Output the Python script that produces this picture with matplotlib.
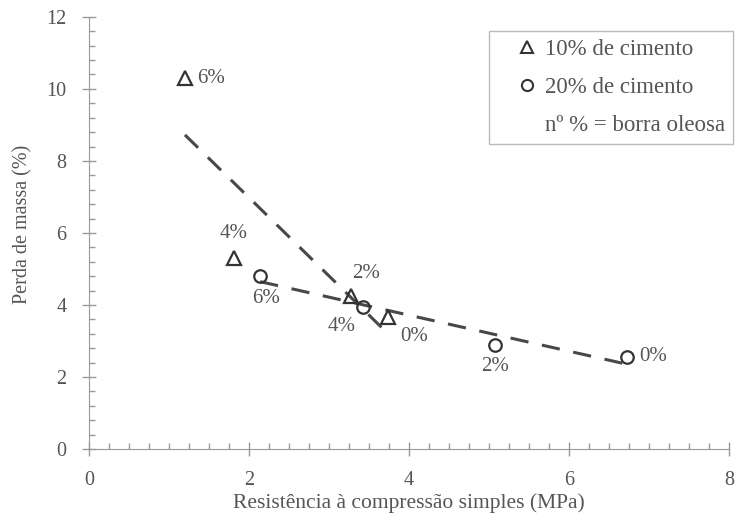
import numpy as np
import matplotlib
matplotlib.use('Agg')
import matplotlib.pyplot as plt
from matplotlib.lines import Line2D
from matplotlib.ticker import MultipleLocator

# data
tri_x = [1.20, 1.81, 3.27, 3.74]
tri_y = [10.30, 5.31, 4.25, 3.67]
tri_lbl = ['6%', '4%', '2%', '0%']

circ_x = [2.14, 3.42, 5.07, 6.72]
circ_y = [4.80, 3.94, 2.89, 2.56]
circ_lbl = ['6%', '4%', '2%', '0%']

plt.rcParams['font.family'] = ['Liberation Serif', 'DejaVu Serif']
txt_col = '#555555'
mk_col = '#333333'
ax_col = '#999999'

fig = plt.figure(figsize=(7.35, 5.27), dpi=100)
ax = fig.add_axes([0.121, 0.148, 0.871, 0.820])

# linear trend lines through each series
for xs, ys in [(tri_x, tri_y), (circ_x, circ_y)]:
    p = np.polyfit(xs, ys, 1)
    xx = np.array([min(xs), max(xs)])
    ax.plot(xx, np.polyval(p, xx), color='#484848', lw=2.2,
            linestyle=(0, (6, 4.5)), zorder=2)

ax.plot(tri_x, tri_y, linestyle='none', marker='^', ms=10, mfc='none',
        mec=mk_col, mew=1.6, zorder=3)
ax.plot(circ_x, circ_y, linestyle='none', marker='o', ms=9, mfc='none',
        mec=mk_col, mew=1.6, zorder=3)

# point labels (offsets in points)
tri_off = [(9, 0, 'left', 'center'), (0, 11, 'center', 'bottom'),
           (1, 9, 'left', 'bottom'), (9, -7, 'left', 'top')]
circ_off = [(4, -9, 'center', 'top'), (-5, -7, 'right', 'top'),
            (0, -9, 'center', 'top'), (9, 0, 'left', 'center')]
for xs, ys, lbls, offs in [(tri_x, tri_y, tri_lbl, tri_off),
                           (circ_x, circ_y, circ_lbl, circ_off)]:
    for x, y, s, (dx, dy, ha, va) in zip(xs, ys, lbls, offs):
        ax.annotate(s, (x, y), xytext=(dx, dy), textcoords='offset points',
                    ha=ha, va=va, fontsize=15, color=txt_col)

ax.set_xlim(0, 8)
ax.set_ylim(0, 12)
ax.xaxis.set_major_locator(MultipleLocator(2))
ax.xaxis.set_minor_locator(MultipleLocator(0.25))
ax.yaxis.set_major_locator(MultipleLocator(2))
ax.yaxis.set_minor_locator(MultipleLocator(0.4))
ax.spines['top'].set_visible(False)
ax.spines['right'].set_visible(False)
for sp in ['left', 'bottom']:
    ax.spines[sp].set_color(ax_col)
ax.tick_params(which='major', direction='inout', length=10, width=1,
               color=ax_col, labelsize=14.5, labelcolor=txt_col)
ax.tick_params(which='minor', direction='in', length=4, width=1, color=ax_col)
ax.tick_params(axis='x', which='major', pad=11)
ax.tick_params(axis='y', which='major', pad=11)

ax.set_xlabel('Resistência à compressão simples (MPa)', fontsize=15.5,
              color=txt_col, labelpad=2)
ax.set_ylabel('Perda de massa (%)', fontsize=14.5, color=txt_col)
ax.yaxis.set_label_coords(-0.088, 0.52)

handles = [Line2D([], [], linestyle='none', marker='^', ms=9, mfc='none',
                  mec=mk_col, mew=1.5),
           Line2D([], [], linestyle='none', marker='o', ms=8, mfc='none',
                  mec=mk_col, mew=1.5),
           Line2D([], [], linestyle='none')]
labels = ['10% de cimento', '20% de cimento', 'nº % = borra oleosa']
leg = ax.legend(handles, labels, loc='upper right', bbox_to_anchor=(0.997, 0.942),
                bbox_transform=fig.transFigure,
                fontsize=16.5, frameon=True, fancybox=False, handlelength=2.7,
                handletextpad=-0.6, labelspacing=0.75, borderpad=0.35,
                borderaxespad=0, labelcolor=txt_col)
leg.get_frame().set_edgecolor('#aaaaaa')
leg.get_frame().set_linewidth(1.0)

fig.savefig('out.png', dpi=100)
